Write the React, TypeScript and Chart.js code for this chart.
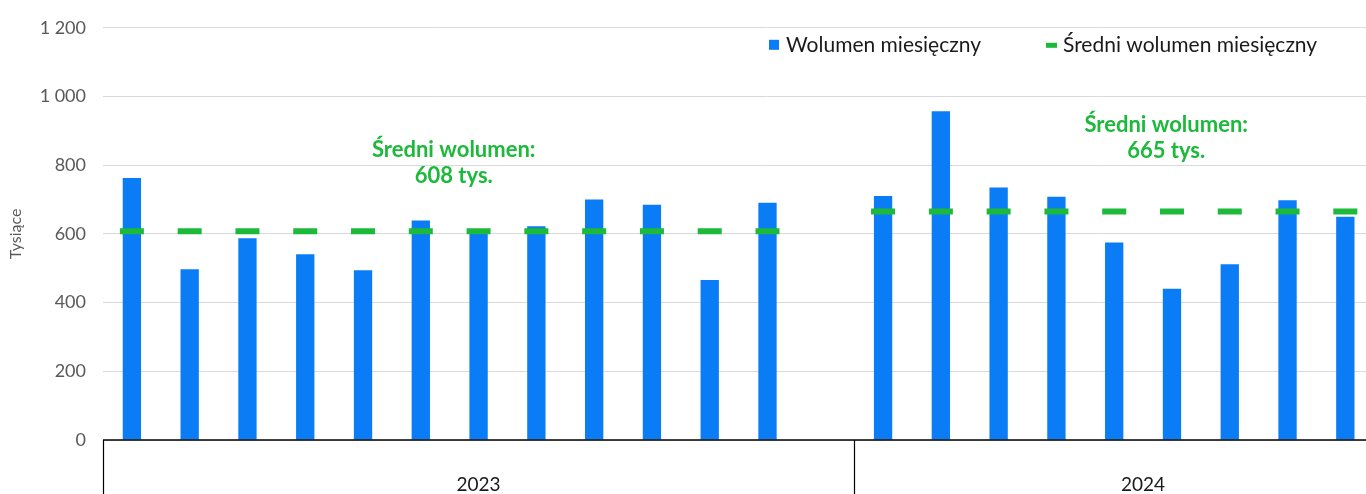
import React, { useEffect, useRef } from "react";
import { Chart, registerables } from "chart.js";

Chart.register(...registerables);

const categories = [
  "sty 2023", "lut 2023", "mar 2023", "kwi 2023", "maj 2023", "cze 2023",
  "lip 2023", "sie 2023", "wrz 2023", "paź 2023", "lis 2023", "gru 2023", "",
  "sty 2024", "lut 2024", "mar 2024", "kwi 2024", "maj 2024", "cze 2024",
  "lip 2024", "sie 2024", "wrz 2024", "",
];
const monthlyVolume: (number | null)[] = [
  763, 497, 587, 541, 494, 639, 605, 622, 700, 685, 466, 691, null,
  710, 957, 735, 708, 575, 440, 512, 698, 650, null,
];
const averageVolume: (number | null)[] = [
  608, 608, 608, 608, 608, 608, 608, 608, 608, 608, 608, 608, null,
  665, 665, 665, 665, 665, 665, 665, 665, 665, null,
];
const yearLabels = ["2023", "2024"];
const yearSlots = [13, 10];
const annotationTexts = [
  ["Średni wolumen:", "608 tys."],
  ["Średni wolumen:", "665 tys."],
];
const annotationAnchors = [
  { x: 5.57, y: 824 },
  { x: 17.9, y: 896 },
];
const seriesNames = ["Wolumen miesięczny", "Średni wolumen miesięczny"];
const yTicks = { min: 0, max: 1200, step: 200 };

const BLUE = "#0A7CF5";
const GREEN = "#1DB93B";

const fmt = (v: number) => String(v).replace(/\B(?=(\d{3})+(?!\d))/g, " ");

const overlayPlugin = {
  id: "overlay",
  afterDraw(chart: any) {
    const ctx = chart.ctx as CanvasRenderingContext2D;
    const area = chart.chartArea;
    const xs = chart.scales.x;
    const ys = chart.scales.y;
    const slot = (area.right - area.left) / categories.length;
    const H = chart.height;
    ctx.save();
    // x axis line
    ctx.strokeStyle = "#000";
    ctx.lineWidth = 1.5;
    ctx.beginPath();
    ctx.moveTo(area.left, area.bottom);
    ctx.lineTo(area.right, area.bottom);
    ctx.stroke();
    // group separators & year labels
    ctx.lineWidth = 1.2;
    ctx.font = "19px Lato";
    ctx.fillStyle = "#1a1a1a";
    ctx.textAlign = "center";
    ctx.textBaseline = "middle";
    const bounds = [0];
    yearSlots.forEach((n) => bounds.push(bounds[bounds.length - 1] + n));
    bounds.forEach((b) => {
      const px = Math.round(area.left + b * slot) + 0.5;
      ctx.beginPath();
      ctx.moveTo(px, area.bottom);
      ctx.lineTo(px, H);
      ctx.stroke();
    });
    yearLabels.forEach((lab, i) => {
      const cx = area.left + ((bounds[i] + bounds[i + 1]) / 2) * slot;
      ctx.fillText(lab, cx, area.bottom + 45);
    });
    // annotations
    ctx.fillStyle = GREEN;
    ctx.font = "bold 22px Lato";
    ctx.textBaseline = "alphabetic";
    annotationTexts.forEach((lines, i) => {
      const ax = xs.getPixelForValue(annotationAnchors[i].x);
      const ay = ys.getPixelForValue(annotationAnchors[i].y);
      lines.forEach((t, j) => ctx.fillText(t, ax, ay + j * 26));
    });
    // legend
    const ly = area.top + 17;
    ctx.font = "21px Lato";
    ctx.textAlign = "left";
    ctx.textBaseline = "middle";
    ctx.fillStyle = BLUE;
    ctx.fillRect(769, ly - 5, 10, 10);
    ctx.fillStyle = "#1a1a1a";
    ctx.fillText(seriesNames[0], 786, ly);
    ctx.fillStyle = GREEN;
    ctx.fillRect(1046, ly - 2, 11, 5);
    ctx.fillStyle = "#1a1a1a";
    ctx.fillText(seriesNames[1], 1063, ly);
    ctx.restore();
  },
};

export default function App() {
  const ref = useRef<HTMLCanvasElement>(null);
  useEffect(() => {
    document.body.style.margin = "0";
    const chart = new Chart(ref.current!, {
      type: "bar",
      data: {
        labels: categories,
        datasets: [
          {
            type: "line",
            label: seriesNames[1],
            data: averageVolume,
            showLine: false,
            pointStyle: "line",
            pointRadius: 12,
            pointHoverRadius: 12,
            pointBorderWidth: 6,
            pointHoverBorderWidth: 6,
            borderColor: GREEN,
            backgroundColor: GREEN,
            order: 0,
          } as any,
          {
            type: "bar",
            label: seriesNames[0],
            data: monthlyVolume,
            backgroundColor: BLUE,
            borderWidth: 0,
            barPercentage: 0.317,
            categoryPercentage: 1,
            order: 1,
          },
        ],
      },
      options: {
        responsive: false,
        animation: false,
        layout: { autoPadding: false, padding: { top: 25, right: 18, bottom: 54, left: 0 } },
        plugins: { legend: { display: false }, tooltip: { enabled: false } },
        scales: {
          x: { display: false, offset: true },
          y: {
            min: yTicks.min,
            max: yTicks.max,
            border: { display: false },
            grid: { color: "#d9d9d9", lineWidth: 1, drawTicks: false },
            ticks: {
              stepSize: yTicks.step,
              padding: 17,
              color: "#595959",
              font: { family: "Lato", size: 18 },
              callback: (v: any) => fmt(Number(v)),
            },
            title: {
              display: true,
              text: "Tysiące",
              color: "#595959",
              font: { family: "Lato", size: 16 },
              padding: { top: 6, bottom: 0 },
            },
            afterFit: (s: any) => {
              s.width = 103;
            },
          },
        },
      },
      plugins: [overlayPlugin],
    });
    return () => chart.destroy();
  }, []);
  return (
    <div style={{ width: 1366, height: 494, overflow: "hidden" }}>
      <canvas ref={ref} width={1450} height={494} style={{ display: "block" }} />
    </div>
  );
}
